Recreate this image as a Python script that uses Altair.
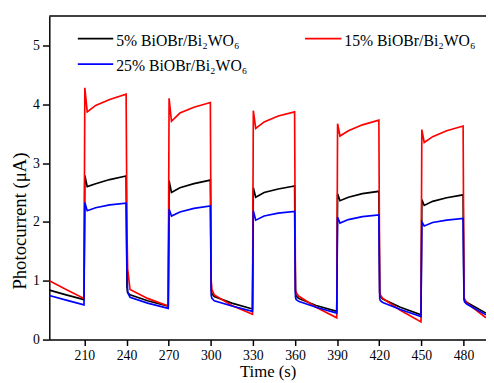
import altair as alt
import pandas as pd

# ---- data ----
time_s = [185, 197, 209.7,
          210.3, 212, 218, 228, 239.7, 240.3, 240.8, 242.5, 255, 269.7,
          270.3, 272, 278, 288, 299.7, 300.3, 300.8, 302.5, 315, 329.7,
          330.3, 332, 338, 348, 359.7, 360.3, 360.8, 362.5, 375, 389.7,
          390.3, 392, 398, 408, 419.7, 420.3, 420.8, 422.5, 435, 449.7,
          450.3, 452, 458, 468, 479.7, 480.3, 480.8, 482.5, 496]

black_5 = [0.84, 0.76, 0.68,
           2.79, 2.60, 2.65, 2.72, 2.78, 0.90, 0.80, 0.76, 0.66, 0.57,
           2.70, 2.50, 2.58, 2.65, 2.71, 0.85, 0.78, 0.73, 0.62, 0.52,
           2.58, 2.42, 2.50, 2.56, 2.61, 0.80, 0.74, 0.70, 0.58, 0.48,
           2.48, 2.36, 2.42, 2.48, 2.52, 0.78, 0.73, 0.69, 0.55, 0.42,
           2.38, 2.28, 2.35, 2.41, 2.46, 0.72, 0.67, 0.63, 0.45]

red_15 = [1.00, 0.85, 0.70,
          4.28, 3.87, 3.98, 4.08, 4.17, 1.86, 1.20, 0.85, 0.70, 0.57,
          4.10, 3.71, 3.85, 3.95, 4.03, 1.00, 0.85, 0.76, 0.58, 0.43,
          3.89, 3.59, 3.70, 3.80, 3.87, 0.85, 0.80, 0.74, 0.55, 0.37,
          3.67, 3.46, 3.55, 3.65, 3.73, 0.80, 0.76, 0.70, 0.50, 0.30,
          3.57, 3.35, 3.45, 3.55, 3.63, 0.72, 0.68, 0.62, 0.37]

blue_25 = [0.75, 0.67, 0.59,
           2.33, 2.19, 2.24, 2.29, 2.32, 1.20, 0.80, 0.72, 0.62, 0.53,
           2.22, 2.10, 2.17, 2.23, 2.27, 0.75, 0.70, 0.66, 0.57, 0.48,
           2.19, 2.03, 2.10, 2.15, 2.18, 0.72, 0.68, 0.65, 0.55, 0.45,
           2.08, 1.98, 2.04, 2.09, 2.12, 0.70, 0.66, 0.63, 0.51, 0.39,
           2.00, 1.93, 1.99, 2.03, 2.06, 0.68, 0.64, 0.60, 0.42]

series_names = ["5% BiOBr/Bi\u2082WO\u2086", "15% BiOBr/Bi\u2082WO\u2086", "25% BiOBr/Bi\u2082WO\u2086"]
series_values = [black_5, red_15, blue_25]
series_colors = ["#000000", "#ff0000", "#0000ff"]

x_ticks = [210, 240, 270, 300, 330, 360, 390, 420, 450, 480]
y_ticks = [0, 1, 2, 3, 4, 5]
x_domain = [185, 496]
y_domain = [0, 5.5]

FONT = "Liberation Serif"
W, H = 444, 329

x_enc = alt.X("t:Q", scale=alt.Scale(domain=x_domain, nice=False, zero=False),
              axis=alt.Axis(values=x_ticks, title="Time (s)", grid=False,
                            labelPadding=3, titlePadding=2))
y_enc = alt.Y("v:Q", scale=alt.Scale(domain=y_domain, nice=False),
              axis=alt.Axis(values=y_ticks, title="Photocurrent (\u03bcA)", grid=False,
                            labelPadding=3, tickSize=7, titlePadding=3, titleY=208,
                            titleFontSize=19))

layers = []
for name, vals, col in zip(series_names, series_values, series_colors):
    df = pd.DataFrame({"t": time_s, "v": vals, "series": name})
    layers.append(
        alt.Chart(df).mark_line(color=col, strokeWidth=1.7, clip=True)
        .encode(x=x_enc, y=y_enc)
    )

# top frame line
top = alt.Chart(pd.DataFrame({"a": [0]})).mark_rule(color="black", strokeWidth=1.5).encode(
    x=alt.value(0), x2=alt.value(W), y=alt.value(0))

# manual legend (positions in pixels)
legend_pos = [(29, 65, 23, 68, 30), (260, 297, 23, 300, 30), (29, 65, 49, 68, 56)]
for (x1, x2, ly, tx, ty), name, col in zip(legend_pos, series_names, series_colors):
    one = pd.DataFrame({"label": [name]})
    layers.append(alt.Chart(one).mark_rule(color=col, strokeWidth=1.7).encode(
        x=alt.value(x1), x2=alt.value(x2), y=alt.value(ly)))
    layers.append(alt.Chart(one).mark_text(align="left", baseline="alphabetic", font=FONT,
                                           fontSize=16, color="black").encode(
        x=alt.value(tx), y=alt.value(ty), text="label:N"))

chart = alt.layer(top, *layers).properties(
    width=W, height=H, autosize=alt.AutoSizeParams(type="none"),
    padding={"left": 42, "top": 5, "right": 0, "bottom": 41},
    background="white",
).configure_view(stroke=None).configure_axis(
    domainColor="black", domainWidth=1.5, tickColor="black", tickWidth=1.5, tickSize=6,
    labelFont=FONT, labelFontSize=14, labelColor="black",
    titleFont=FONT, titleFontSize=17, titleFontWeight="normal", titleColor="black",
)

chart.save("out.html", embed_options={"renderer": "svg", "actions": False})
